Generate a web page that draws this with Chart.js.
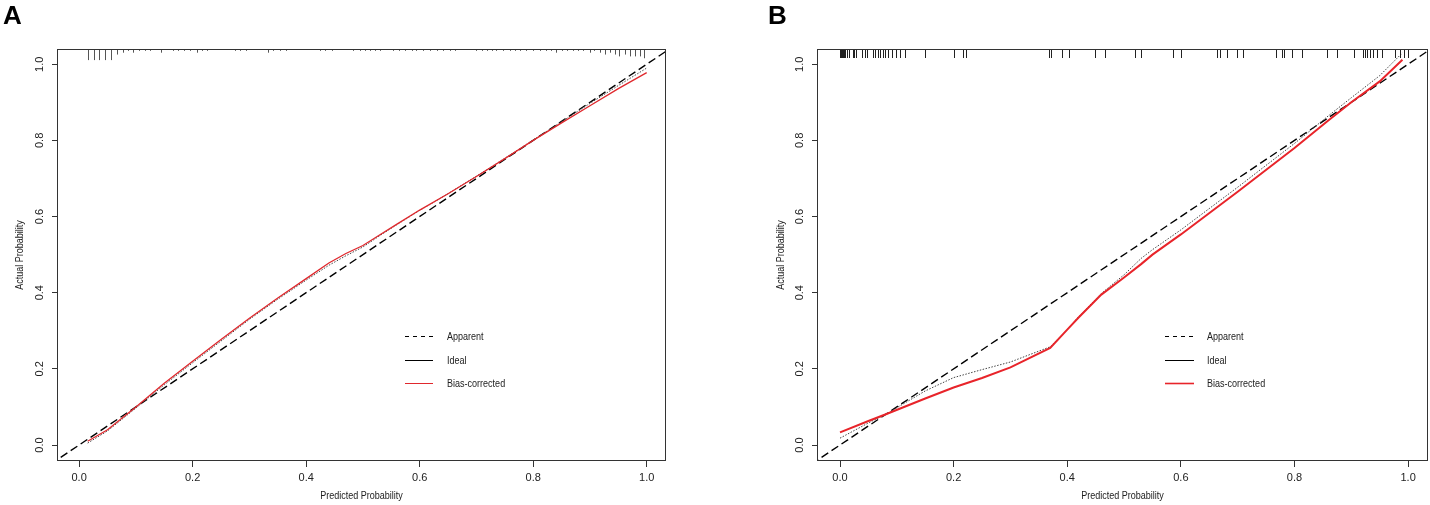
<!DOCTYPE html>
<html>
<head>
<meta charset="utf-8">
<script src="https://cdn.jsdelivr.net/npm/chart.js@4.4.1/dist/chart.umd.min.js"></script>
<style>
  body { margin: 0; background: #fff; }
  #wrap { position: relative; width: 1430px; height: 505px; }
  canvas { position: absolute; top: 0; }
  .tag { position: absolute; top: 0; font: bold 26px "Liberation Sans", Arial, sans-serif; color: #000; }
</style>
</head>
<body>
<div id="wrap">
  <canvas id="chartA" width="715" height="505" style="left:0"></canvas>
  <canvas id="chartB" width="715" height="505" style="left:715px"></canvas>
  <div class="tag" style="left:3px">A</div>
  <div class="tag" style="left:768px">B</div>
</div>
<script>
// shared
const tickValues = [0, 0.2, 0.4, 0.6, 0.8, 1.0];
const legendLabels = ['Apparent', 'Ideal', 'Bias-corrected'];
const xTitle = 'Predicted Probability';
const yTitle = 'Actual Probability';
const idealLine = [-0.05, 1.05];

// panel A
const predA     = [0.015, 0.05, 0.1, 0.15, 0.2, 0.25, 0.3, 0.35, 0.4, 0.44, 0.47, 0.5, 0.53, 0.56, 0.6, 0.65, 0.7, 0.75, 0.8, 0.85, 0.9, 0.95, 1.0];
const apparentA = [0.005, 0.037, 0.097, 0.158, 0.216, 0.273, 0.33, 0.383, 0.433, 0.472, 0.497, 0.52, 0.55, 0.579, 0.616, 0.66, 0.706, 0.753, 0.801, 0.849, 0.897, 0.944, 0.99];
const biasA     = [0.01, 0.04, 0.1, 0.162, 0.22, 0.277, 0.333, 0.386, 0.437, 0.478, 0.503, 0.524, 0.552, 0.58, 0.617, 0.66, 0.705, 0.752, 0.8, 0.846, 0.891, 0.936, 0.978];
const rugA = [0.016, 0.026, 0.035, 0.046, 0.056, 0.067, 0.077, 0.086, 0.095, 0.106, 0.116, 0.125, 0.144, 0.165, 0.174, 0.185, 0.196, 0.208, 0.217, 0.225,
  0.275, 0.283, 0.294, 0.333, 0.342, 0.354, 0.364, 0.424, 0.433, 0.445, 0.482,
  0.495, 0.504, 0.512, 0.521, 0.530, 0.553, 0.564, 0.574, 0.586, 0.594, 0.606, 0.618, 0.630, 0.641, 0.653, 0.662,
  0.700, 0.709, 0.718, 0.727, 0.735, 0.747, 0.759, 0.768, 0.776, 0.788, 0.800, 0.812, 0.823, 0.832, 0.841, 0.850, 0.859, 0.870, 0.879, 0.888,
  0.900, 0.908, 0.917, 0.926, 0.935, 0.944, 0.952, 0.961, 0.970, 0.979, 0.988, 0.996];
const rugCountA = [6, 6, 6, 6, 6, 3, 2, 1, 2, 1, 1, 1, 2, 1, 1, 1, 1, 2, 1, 1,
  1, 1, 1, 2, 1, 1, 1, 1, 1, 1, 1,
  1, 1, 1, 1, 1, 1, 1, 1, 1, 1, 1, 1, 1, 1, 1, 1,
  1, 1, 1, 1, 1, 1, 1, 1, 1, 1, 1, 1, 1, 1, 2, 1, 1, 1, 1, 1,
  2, 1, 2, 3, 2, 3, 4, 3, 4, 4, 4, 5];

// panel B
const predB     = [0.0, 0.05, 0.083, 0.15, 0.2, 0.25, 0.3, 0.37, 0.4, 0.42, 0.46, 0.5, 0.53, 0.55, 0.6, 0.7, 0.8, 0.86, 0.9, 0.95, 0.99];
const apparentB = [0.018, 0.058, 0.083, 0.142, 0.177, 0.198, 0.218, 0.258, 0.303, 0.337, 0.398, 0.447, 0.49, 0.513, 0.565, 0.677, 0.792, 0.865, 0.912, 0.97, 1.03];
const biasB     = [0.033, 0.063, 0.082, 0.122, 0.151, 0.176, 0.204, 0.255, 0.303, 0.335, 0.395, 0.44, 0.475, 0.5, 0.553, 0.665, 0.78, 0.853, 0.9, 0.955, 1.012];
const rugB = [0.0, 0.001, 0.003, 0.005, 0.007, 0.009, 0.012, 0.016, 0.022, 0.025, 0.028, 0.038, 0.044, 0.048,
  0.058, 0.062, 0.066, 0.07, 0.075, 0.079, 0.085, 0.091, 0.099, 0.106, 0.114, 0.15, 0.2, 0.217, 0.221,
  0.367, 0.371, 0.39, 0.403, 0.449, 0.467, 0.519, 0.53, 0.586, 0.601, 0.664, 0.669, 0.681, 0.698, 0.71,
  0.767, 0.778, 0.782, 0.796, 0.813, 0.857, 0.874, 0.905, 0.92, 0.924, 0.928, 0.933, 0.939, 0.945, 0.954,
  0.977, 0.985, 0.992, 1.0];

const FONT = '"Liberation Sans Narrow", "Liberation Sans", Arial, sans-serif';
Chart.defaults.font.family = FONT;
Chart.defaults.font.size = 11;
Chart.defaults.color = '#222';
Chart.defaults.animation = false;

function pts(xs, ys) {
    return xs.map((x, i) => ({ x: x, y: ys[i] }));
}

// R's text is narrower than Liberation Sans, squeeze it a bit
function narrowText(ctx, text, x, y, align, rot) {
    ctx.save();
    ctx.translate(x, y);
    if (rot) ctx.rotate(rot);
    ctx.scale(0.82, 1);
    ctx.font = '11px ' + FONT;
    ctx.fillStyle = '#222';
    ctx.textAlign = align;
    ctx.textBaseline = 'middle';
    ctx.fillText(text, 0, 0);
    ctx.restore();
}

// box round the plot and the axis titles
const boxPlugin = {
    id: 'box',
    afterDraw(chart, args, opts) {
        const a = chart.chartArea, ctx = chart.ctx;
        ctx.save();
        ctx.strokeStyle = '#333';
        ctx.lineWidth = 1;
        ctx.strokeRect(Math.round(a.left) + 0.5, Math.round(a.top) + 0.5,
            Math.round(a.right - a.left) - 1, Math.round(a.bottom - a.top) - 1);
        ctx.restore();
        narrowText(ctx, xTitle, (a.left + a.right) / 2, opts.xTitleY, 'center', 0);
        narrowText(ctx, yTitle, opts.yTitleX, (a.top + a.bottom) / 2, 'center', -Math.PI / 2);
    }
};

// spikes of the predicted values hanging from the top edge
const rugPlugin = {
    id: 'rug',
    afterDatasetsDraw(chart, args, opts) {
        if (!opts.values) return;
        const ctx = chart.ctx, top = chart.chartArea.top;
        const xs = chart.scales.x;
        ctx.save();
        ctx.strokeStyle = opts.color;
        ctx.lineWidth = 1;
        opts.values.forEach((v, i) => {
            const px = Math.round(xs.getPixelForValue(v)) + 0.5;
            const len = opts.counts ? (opts.counts[i] || 1) * opts.unit : opts.unit;
            ctx.beginPath();
            ctx.moveTo(px, top);
            ctx.lineTo(px, top + len);
            ctx.stroke();
        });
        ctx.restore();
    }
};

const keyPlugin = {
    id: 'key',
    afterDraw(chart, args, opts) {
        const ctx = chart.ctx;
        opts.items.forEach((it, i) => {
            const y = opts.rows[i] + 0.5;
            ctx.save();
            ctx.beginPath();
            ctx.setLineDash(it.dash);
            ctx.strokeStyle = it.color;
            ctx.lineWidth = it.width;
            ctx.moveTo(opts.x1, y);
            ctx.lineTo(opts.x2, y);
            ctx.stroke();
            ctx.restore();
            narrowText(ctx, legendLabels[i], opts.tx, y, 'left', 0);
        });
    }
};

function makeChart(id, p) {
    const tickFmt = v => v.toFixed(1);
    return new Chart(document.getElementById(id), {
        type: 'scatter',
        data: {
            datasets: [
                {
                    label: 'Bias-corrected',
                    data: pts(p.pred, p.bias),
                    showLine: true, pointRadius: 0,
                    borderColor: p.red, borderWidth: p.redWidth
                },
                {
                    label: 'Apparent',
                    data: pts(p.pred, p.apparent),
                    showLine: true, pointRadius: 0,
                    borderColor: '#444', borderWidth: 1, borderDash: [1.5, 1.5]
                },
                {
                    label: 'Ideal',
                    data: pts(idealLine, idealLine),
                    showLine: true, pointRadius: 0,
                    borderColor: '#000', borderWidth: 1.4, borderDash: [8, 4]
                }
            ]
        },
        options: {
            responsive: false,
            events: [],
            layout: { padding: p.padding },
            scales: {
                x: {
                    type: 'linear', min: p.xMin, max: p.xMax,
                    afterBuildTicks: s => { s.ticks = tickValues.map(v => ({ value: v })); },
                    afterFit: s => { s.height = 44; },
                    grid: { drawOnChartArea: false, tickLength: 6, color: '#333' },
                    border: { display: false },
                    ticks: { padding: 4, callback: tickFmt, maxRotation: 0 }
                },
                y: {
                    type: 'linear', min: -0.042, max: 1.04,
                    afterBuildTicks: s => { s.ticks = tickValues.map(v => ({ value: v })); },
                    afterFit: s => { s.width = 57; },
                    grid: { drawOnChartArea: false, tickLength: 5, color: '#333' },
                    border: { display: false },
                    ticks: { padding: 4, callback: tickFmt, minRotation: 90, maxRotation: 90, crossAlign: 'center' }
                }
            },
            plugins: {
                legend: { display: false },
                tooltip: { enabled: false },
                box: { xTitleY: 496, yTitleX: p.yTitleX },
                rug: { values: p.rug, counts: p.rugCounts, unit: p.rugUnit, color: p.rugColor },
                key: {
                    x1: p.key[0], x2: p.key[1], tx: p.key[2], rows: [336, 360, 383],
                    items: [
                        { dash: [4, 4], color: '#000', width: 1 },
                        { dash: [], color: '#000', width: 1 },
                        { dash: [], color: p.red, width: p.keyRedWidth }
                    ]
                }
            }
        },
        plugins: [boxPlugin, rugPlugin, keyPlugin]
    });
}

makeChart('chartA', {
    pred: predA, apparent: apparentA, bias: biasA,
    rug: rugA, rugCounts: rugCountA, rugUnit: 1.85, rugColor: '#555',
    red: '#e0282d', redWidth: 1.3, keyRedWidth: 1,
    xMin: -0.039, xMax: 1.034, yTitleX: 20,
    padding: { left: 0, right: 49, top: 49, bottom: 0 },
    key: [405, 433, 447]
});

makeChart('chartB', {
    pred: predB, apparent: apparentB, bias: biasB,
    rug: rugB, rugCounts: null, rugUnit: 9, rugColor: '#222',
    red: '#e8242a', redWidth: 2, keyRedWidth: 1.6,
    xMin: -0.0405, xMax: 1.035, yTitleX: 66,
    padding: { left: 45, right: 2, top: 49, bottom: 0 },
    key: [450, 479, 492]
});
</script>
</body>
</html>
